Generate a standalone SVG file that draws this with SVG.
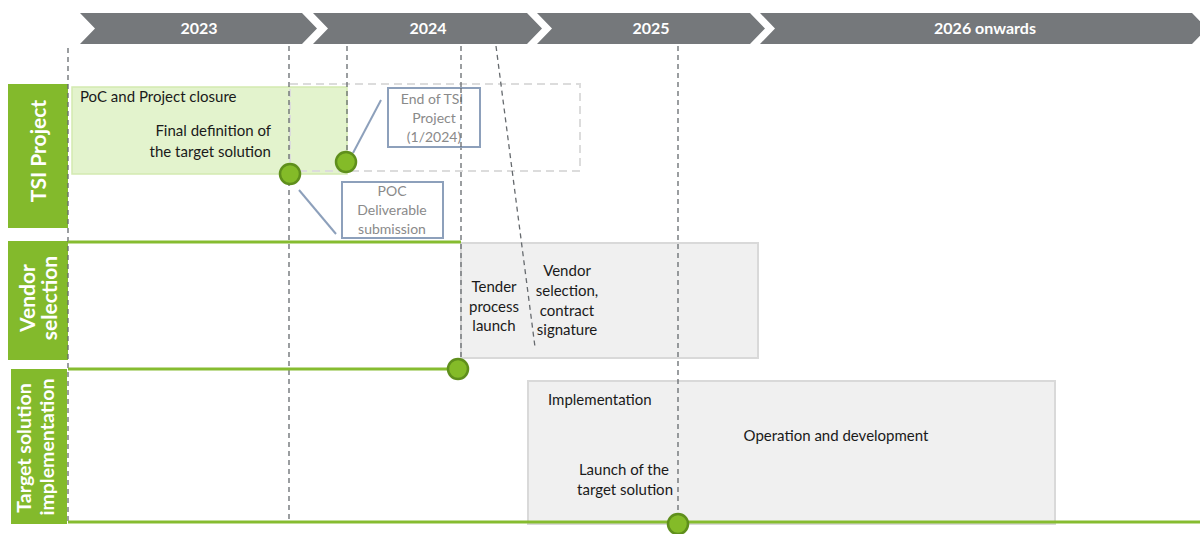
<svg xmlns="http://www.w3.org/2000/svg" width="1200" height="534" viewBox="0 0 1200 534">
  <style>
    .chev { fill: #75787b; }
    .chev-t { font-family: Lato, "Liberation Sans", sans-serif; font-weight: bold; font-size: 16px; fill: #ffffff; text-anchor: middle; }
    .lane { fill: #83ba2c; }
    .lane-t { font-family: Lato, "Liberation Sans", sans-serif; font-weight: bold; font-size: 21px; fill: #ffffff; text-anchor: middle; }
    .lane-s { font-size: 19.5px; }
    .guide { stroke: #666a6e; stroke-width: 1.3; stroke-dasharray: 5 4; fill: none; }
    .track { stroke: #86bc30; stroke-width: 3; fill: none; }
    .ms { fill: #84bb28; stroke: #5f8f1c; stroke-width: 2.5; }
    .phase { fill: #f0f0f0; stroke: #d9d9d9; stroke-width: 2; }
    .t { font-family: Lato, "Liberation Sans", sans-serif; font-size: 15px; fill: #1a1a1a; }
    .mid { text-anchor: middle; }
    .end { text-anchor: end; }
    .call { fill: #ffffff; stroke: #8da0bb; stroke-width: 2; }
    .call-t { font-family: Lato, "Liberation Sans", sans-serif; font-size: 14px; fill: #8a8a8a; text-anchor: middle; }
    .lead { stroke: #8da0bb; stroke-width: 2; fill: none; }
  </style>

  <rect width="1200" height="534" fill="#ffffff"/>

  <!-- year chevrons -->
  <g id="years">
    <polygon class="chev" points="80,13 302,13 317,28.5 302,44 80,44 95,28.5"/>
    <polygon class="chev" points="313,13 527,13 542,28.5 527,44 313,44 328,28.5"/>
    <polygon class="chev" points="537,13 750,13 765,28.5 750,44 537,44 552,28.5"/>
    <polygon class="chev" points="760,13 1192,13 1207,28.5 1192,44 760,44 775,28.5"/>
    <text class="chev-t" x="199" y="34">2023</text>
    <text class="chev-t" x="428" y="34">2024</text>
    <text class="chev-t" x="651" y="34">2025</text>
    <text class="chev-t" x="985" y="34">2026 onwards</text>
  </g>

  <!-- swimlane headers -->
  <g id="lane-tsi">
    <rect class="lane" x="8" y="84" width="60" height="144"/>
    <text class="lane-t" transform="translate(46,151) rotate(-90)">TSI Project</text>
  </g>
  <g id="lane-vendor">
    <rect class="lane" x="8" y="241" width="60" height="119"/>
    <text class="lane-t" transform="translate(35,298) rotate(-90)">Vendor</text>
    <text class="lane-t" transform="translate(57,298) rotate(-90)">selection</text>
  </g>
  <g id="lane-target">
    <rect class="lane" x="11" y="369" width="56" height="155"/>
    <text class="lane-t lane-s" transform="translate(31,448) rotate(-90)">Target solution</text>
    <text class="lane-t lane-s" transform="translate(54,447) rotate(-90)">implementation</text>
  </g>

  <!-- phase boxes -->
  <g id="poc-phase">
    <rect x="72" y="87" width="275" height="87" fill="#e3f3cd" stroke="#d3eab0" stroke-width="1.5"/>
    <text class="t" x="80" y="102">PoC and Project closure</text>
    <text class="t end" x="271" y="136">Final definition of</text>
    <text class="t end" x="271" y="157">the target solution</text>
  </g>
  <g id="tsi-end-phase">
    <rect x="290" y="84" width="290" height="87" fill="none" stroke="#dcdcdc" stroke-width="2" stroke-dasharray="8 5"/>
  </g>
  <g id="vendor-phase">
    <rect class="phase" x="461" y="243" width="297" height="115"/>
    <text class="t mid" x="494" y="292">Tender</text>
    <text class="t mid" x="494" y="312">process</text>
    <text class="t mid" x="494" y="331">launch</text>
    <text class="t mid" x="567" y="276">Vendor</text>
    <text class="t mid" x="567" y="296">selection,</text>
    <text class="t mid" x="567" y="316">contract</text>
    <text class="t mid" x="567" y="335">signature</text>
  </g>
  <g id="implementation-phase">
    <rect class="phase" x="528" y="381" width="527" height="143"/>
    <text class="t" x="548" y="405">Implementation</text>
    <text class="t mid" x="836" y="441">Operation and development</text>
    <text class="t end" x="669" y="475">Launch of the</text>
    <text class="t end" x="673" y="495">target solution</text>
  </g>

  <!-- connectors: guides, tracks and callout leaders -->
  <g id="connectors">
    <line class="guide" x1="68" y1="48" x2="68" y2="522"/>
    <line class="guide" x1="289" y1="46" x2="289" y2="522"/>
    <line class="guide" x1="347" y1="46" x2="347" y2="158"/>
    <line class="guide" x1="461" y1="46" x2="461" y2="366"/>
    <line class="guide" x1="496" y1="46" x2="535" y2="347"/>
    <line class="guide" x1="678" y1="46" x2="678" y2="520"/>
    <line class="track" x1="68" y1="242" x2="461" y2="242"/>
    <line class="track" x1="68" y1="369" x2="458" y2="369"/>
    <line class="track" x1="68" y1="522" x2="1200" y2="522"/>
    <line class="lead" x1="381" y1="100" x2="353" y2="153"/>
    <line class="lead" x1="299" y1="190" x2="336" y2="234"/>
  </g>

  <!-- milestones -->
  <g id="ms-poc-deliverable"><circle class="ms" cx="290" cy="174" r="10"/></g>
  <g id="ms-tsi-end"><circle class="ms" cx="346" cy="162" r="10"/></g>
  <g id="ms-tender"><circle class="ms" cx="458" cy="369" r="10"/></g>
  <g id="ms-launch"><circle class="ms" cx="678" cy="524" r="10"/></g>

  <!-- callouts -->
  <g id="callout-tsi-end">
    <rect class="call" x="388" y="88" width="92" height="59"/>
    <text class="call-t" x="432" y="104">End of TSI</text>
    <text class="call-t" x="434" y="123">Project</text>
    <text class="call-t" x="434" y="142">(1/2024)</text>
  </g>
  <g id="callout-poc">
    <rect class="call" x="342" y="182" width="101" height="56"/>
    <text class="call-t" x="392" y="196">POC</text>
    <text class="call-t" x="392" y="215">Deliverable</text>
    <text class="call-t" x="392" y="234">submission</text>
  </g>
  <!-- the 2024 guide runs over the end-of-project callout -->
  <line class="guide" x1="461" y1="88" x2="461" y2="147"/>
</svg>
